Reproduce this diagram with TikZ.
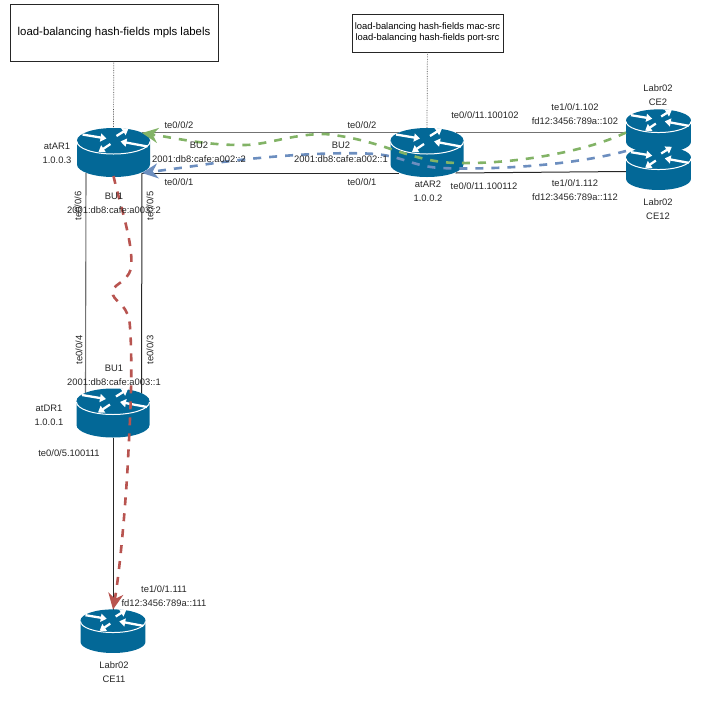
\documentclass[tikz,border=0pt]{standalone}
\usepackage{fontspec}
\setmainfont{Liberation Sans}
\usetikzlibrary{arrows.meta}
\definecolor{routerblue}{HTML}{036897}
\definecolor{dashred}{HTML}{B85450}
\definecolor{dashgreen}{HTML}{82B366}
\definecolor{dashblue}{HTML}{6C8EBF}
\tikzset{
  routerbox/.style={minimum width=73pt,minimum height=49pt,inner sep=0pt,outer sep=0pt},
  cebox/.style={minimum width=65pt,minimum height=41pt,inner sep=0pt,outer sep=0pt},
  lbl/.style={font=\fontsize{9.4}{14}\selectfont,align=center,inner sep=0pt,text=black!85},
  notebox/.style={draw=black!85,fill=white,line width=0.8pt,align=center,inner sep=0pt},
  graylink/.style={draw=black!55,line width=1.1pt},
  blacklink/.style={draw=black!85,line width=1pt},
  tracered/.style={draw=dashred,line width=2.6pt,dash pattern=on 8pt off 8pt},
  tracegreen/.style={draw=dashgreen,line width=2.6pt,dash pattern=on 8pt off 8pt},
  traceblue/.style={draw=dashblue,line width=2.6pt,dash pattern=on 8pt off 8pt},
  arrowwhite/.style={draw=white,line width=2.3pt,-{Stealth[length=6pt,width=8pt,inset=0pt]}},
  routericon/.pic={
    % body
    \fill[routerblue] (-36.5,0) -- (-36.5,24) arc[start angle=180,end angle=360,x radius=36.5,y radius=-12.5]
      -- (36.5,0) -- cycle;
    \fill[routerblue] (0,0) ellipse[x radius=36.5,y radius=12.5];
    \draw[white,line width=1pt] (-36.5,1) arc[start angle=180,end angle=360,x radius=36.5,y radius=-12.5];
    % arrows
    \draw[arrowwhite] (-31,-6) -- (-7,-2);
    \draw[arrowwhite] (3,-4.5) -- (15,-12);
    \draw[arrowwhite] (34,6) -- (7,1);
    \draw[arrowwhite] (-3,3.5) -- (-15,11.5);
  }
}
\begin{document}
\begin{tikzpicture}[x=1pt,y=-1pt]
  \useasboundingbox (0,0) rectangle (726,702);
  % Routers
  \node[routerbox] (atAR1) at (113.5,152.5) {};
  \node[routerbox] (atAR2) at (427,152.5) {};
  \node[routerbox] (atDR1) at (113,413) {};
  \node[cebox] (CE2) at (658.5,129.5) {};
  \node[cebox] (CE12) at (658.5,166.5) {};
  \node[cebox] (CE11) at (113,630) {};

  % Notes
  \node[notebox,minimum width=208pt,minimum height=57pt,font=\fontsize{11.4}{14}\selectfont] (noteAR1) at (114,32.7) {load-balancing hash-fields mpls labels};
  \node[notebox,minimum width=151pt,minimum height=38pt,font=\fontsize{9.4}{11}\selectfont] (noteAR2) at (427.5,33) {load-balancing hash-fields mac-src\\load-balancing hash-fields port-src};
  \draw[black!70,densely dotted,line width=0.7pt] (noteAR1) -- (atAR1.north);
  \draw[black!70,densely dotted,line width=0.7pt] (noteAR2) -- (atAR2.north);

  % Links
  \draw[graylink] ([xshift=-8pt,yshift=-4.5pt]atAR1.north east) -- ([xshift=8pt,yshift=-4.5pt]atAR2.north west);
  \draw[blacklink] ([xshift=-8pt,yshift=4pt]atAR1.south east) -- ([xshift=8pt,yshift=4pt]atAR2.south west);
  \draw[graylink] ([xshift=9pt,yshift=4pt]atAR1.south west) -- ([xshift=9pt,yshift=-5pt]atDR1.north west);
  \draw[blacklink] ([xshift=-8pt,yshift=4pt]atAR1.south east) -- ([xshift=-8pt,yshift=-5pt]atDR1.north east);
  \draw[graylink] ([xshift=-8pt,yshift=-4.5pt]atAR2.north east) -- ([yshift=-3pt]CE2.west);
  \draw[blacklink] ([xshift=-8pt,yshift=4pt]atAR2.south east) -- ([yshift=-5pt]CE12.west);
  \draw[blacklink] (atDR1.south) -- (CE11.north);

  % Router icons
  \pic at (113.5,140.5) {routericon};
  \pic at (427,140.5) {routericon};
  \pic at (113,401) {routericon};
  \pic[scale=0.89] at (658.5,120.5) {routericon};
  \pic[scale=0.89] at (658.5,157.5) {routericon};
  \pic[scale=0.89] at (113,620.5) {routericon};

  % Traffic
  \draw[tracegreen,-{Stealth[length=16pt,width=15pt,fill=dashgreen]}] ([yshift=-3pt]CE2.west)
    .. controls (590,150) and (520,164) .. (460,163)
    .. controls (410,163) and (385,140) .. (325,134)
    .. controls (290,134) and (265,146) .. (240,145)
    .. controls (205,145) and (175,138) .. ([xshift=-8pt,yshift=-5pt]atAR1.north east);
  \draw[traceblue,-{Stealth[length=16pt,width=15pt,fill=dashblue]}] ([yshift=-5pt]CE12.north west)
    .. controls (570,166) and (490,170) .. (440,168)
    .. controls (410,166) and (400,154) .. (365,153.5)
    .. controls (320,152) and (260,157) .. (215,163)
    .. controls (195,166) and (165,170) .. ([xshift=-8pt,yshift=4pt]atAR1.south east);
  \draw[tracered,-{Stealth[length=16pt,width=15pt,fill=dashred]}] ([yshift=1pt]atAR1.south)
    .. controls (120,205) and (134,245) .. (131,268)
    .. controls (127,285) and (110,283) .. (113,295)
    .. controls (116,303) and (129,305) .. (130,327)
    .. controls (133,370) and (130,420) .. (128,460)
    .. controls (126,500) and (120,570) .. (CE11.north);

  % Labels
  \node[lbl] (lblAR1) at (57,153) {atAR1\\1.0.0.3};
  \node[lbl] (lblAR2) at (428,191) {atAR2\\1.0.0.2};
  \node[lbl] (lblDR1) at (49,415.5) {atDR1\\1.0.0.1};
  \node[lbl] (lblCE2) at (658,95) {Labr02\\CE2};
  \node[lbl] (lblCE12) at (658,209) {Labr02\\CE12};
  \node[lbl] (lblCE11) at (114,672) {Labr02\\CE11};
  \node[lbl] (lblbu2a) at (199,152.5) {BU2\\2001:db8:cafe:a002::2};
  \node[lbl] (lblbu2b) at (341,152.5) {BU2\\2001:db8:cafe:a002::1};
  \node[lbl] (lblbu1a) at (114,203.5) {BU1\\2001:db8:cafe:a003::2};
  \node[lbl] (lblbu1b) at (114,375.5) {BU1\\2001:db8:cafe:a003::1};
  \node[lbl] (lblte2a) at (179,125) {te0/0/2};
  \node[lbl] (lblte1a) at (179,182) {te0/0/1};
  \node[lbl] (lblte2b) at (362,125) {te0/0/2};
  \node[lbl] (lblte1b) at (362,182) {te0/0/1};
  \node[lbl,rotate=90] (lblte6) at (78,206) {te0/0/6};
  \node[lbl,rotate=90] (lblte5) at (150,206) {te0/0/5};
  \node[lbl,rotate=90] (lblte4) at (79,350) {te0/0/4};
  \node[lbl,rotate=90] (lblte3) at (150,350) {te0/0/3};
  \node[lbl] (lblvlan102) at (485,115) {te0/0/11.100102};
  \node[lbl] (lblvlan112) at (484,186) {te0/0/11.100112};
  \node[lbl] (lblce102) at (575,114) {te1/0/1.102\\fd12:3456:789a::102};
  \node[lbl] (lblce112) at (575,190) {te1/0/1.112\\fd12:3456:789a::112};
  \node[lbl] (lblvlan111) at (69,453) {te0/0/5.100111};
  \node[lbl] (lblce111) at (164,596) {te1/0/1.111\\fd12:3456:789a::111};
\end{tikzpicture}
\end{document}
